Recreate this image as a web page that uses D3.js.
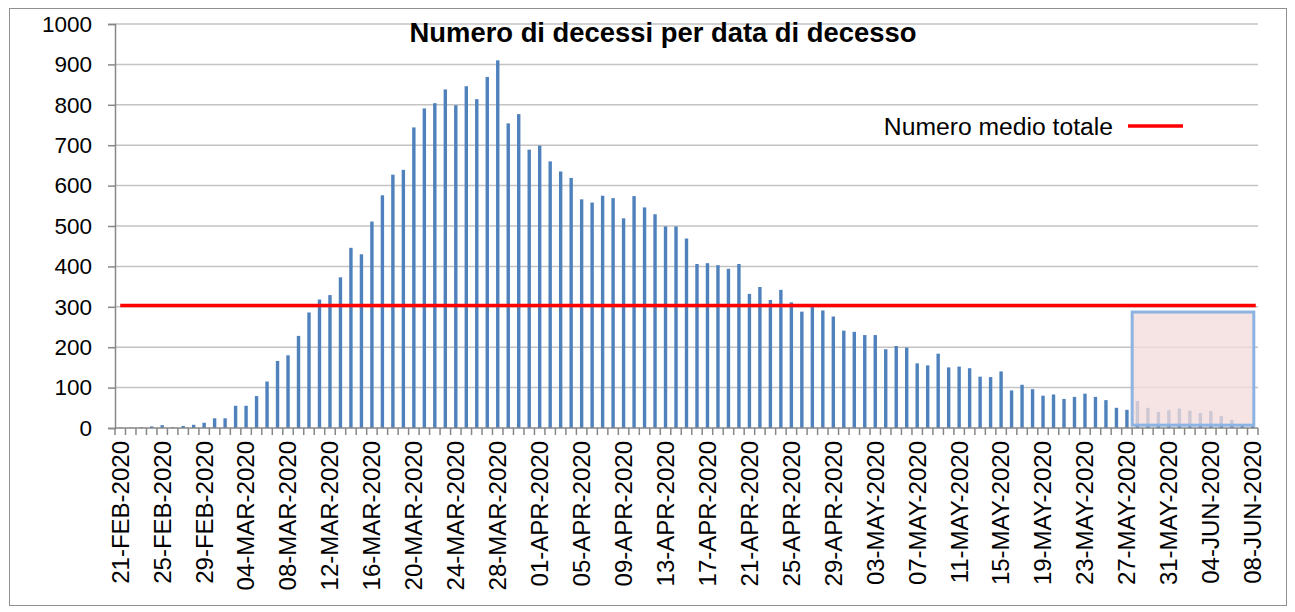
<!DOCTYPE html>
<html>
<head>
<meta charset="utf-8">
<script src="https://cdn.jsdelivr.net/npm/d3@7"></script>
<style>
  html, body { margin: 0; padding: 0; background: #ffffff; }
  svg { display: block; font-family: "Liberation Sans", Arial, sans-serif; }
</style>
</head>
<body>
<svg id="chart" width="1295" height="612"></svg>
<script>
// ---- Data ----
const startDate = "2020-02-21";
const endDate = "2020-06-08";
const deaths = [
  1, 1, 2, 4, 7, 2, 5, 8, 13, 24,
  24, 55, 55, 79, 115, 166, 180, 228, 286, 318,
  329, 373, 446, 430, 511, 576, 627, 639, 744, 791,
  804, 838, 799, 846, 814, 869, 910, 754, 777, 689,
  699, 660, 635, 619, 566, 558, 575, 569, 519, 574,
  546, 529, 499, 499, 469, 406, 408, 403, 394, 406,
  332, 349, 317, 342, 311, 288, 306, 291, 276, 241,
  238, 230, 230, 195, 203, 199, 160, 155, 184, 150,
  152, 148, 127, 126, 140, 93, 107, 96, 80, 83,
  72, 77, 85, 77, 69, 50, 45, 67, 50, 40,
  44, 48, 43, 37, 42, 30, 20, 9, 5
];
const meanValue = 303;
const yTicks = [0, 100, 200, 300, 400, 500, 600, 700, 800, 900, 1000];
const tickLabels = [
  "21-FEB-2020", "25-FEB-2020", "29-FEB-2020", "04-MAR-2020", "08-MAR-2020",
  "12-MAR-2020", "16-MAR-2020", "20-MAR-2020", "24-MAR-2020", "28-MAR-2020",
  "01-APR-2020", "05-APR-2020", "09-APR-2020", "13-APR-2020", "17-APR-2020",
  "21-APR-2020", "25-APR-2020", "29-APR-2020", "03-MAY-2020", "07-MAY-2020",
  "11-MAY-2020", "15-MAY-2020", "19-MAY-2020", "23-MAY-2020", "27-MAY-2020",
  "31-MAY-2020", "04-JUN-2020", "08-JUN-2020"
];
const titleText = "Numero di decessi per data di decesso";
const legendText = "Numero medio totale";
// highlighted region (category index units, value units)
const boxFrom = 97, boxTo = 108.6, boxTop = 287, boxBottom = 7;

(function () {
// ---- Categories ----
const parse = d3.utcParse("%Y-%m-%d");
const fmt = d3.utcFormat("%d-%b-%Y");
const categories = d3.utcDay.range(parse(startDate), d3.utcDay.offset(parse(endDate), 1))
  .map(d => fmt(d).toUpperCase());

// ---- Layout ----
const svg = d3.select("#chart");
const mLeft = 115, mRight = 1258, mTop = 24, mBottom = 428;

const x = d3.scaleBand().domain(categories).range([mLeft, mRight]).paddingInner(0).paddingOuter(0);
const xi = d3.scaleLinear().domain([0, categories.length]).range([mLeft, mRight]);
const y = d3.scaleLinear().domain([0, 1000]).range([mBottom, mTop]);
const barW = 3.4;

// outer border
svg.append("rect").attr("x", 9.5).attr("y", 8.5).attr("width", 1277).attr("height", 597)
  .attr("fill", "#fff").attr("stroke", "#8f8f8f").attr("stroke-width", 1);

// gridlines
svg.append("g").selectAll("line").data(yTicks.filter(v => v > 0)).join("line")
  .attr("x1", mLeft).attr("x2", mRight)
  .attr("y1", d => y(d)).attr("y2", d => y(d))
  .attr("stroke", "#c3c3c3").attr("stroke-width", 1.5);

// bars
svg.append("g").selectAll("rect").data(deaths).join("rect")
  .attr("x", (d, i) => x(categories[i]) + x.bandwidth() / 2 - barW / 2)
  .attr("width", barW)
  .attr("y", d => y(d))
  .attr("height", d => y(0) - y(d))
  .attr("fill", "#4f81bd");

// mean line
svg.append("line")
  .attr("x1", x(categories[0]) + x.bandwidth() / 2)
  .attr("x2", x(categories[categories.length - 1]) + x.bandwidth() / 2 + 3)
  .attr("y1", y(meanValue)).attr("y2", y(meanValue))
  .attr("stroke", "#ff0000").attr("stroke-width", 3.5);

// highlight box
svg.append("rect")
  .attr("x", xi(boxFrom)).attr("y", y(boxTop))
  .attr("width", xi(boxTo) - xi(boxFrom)).attr("height", y(boxBottom) - y(boxTop))
  .attr("fill", "#f2dcdb").attr("fill-opacity", 0.78)
  .attr("stroke", "#8db3e2").attr("stroke-width", 3);

// y axis
const yAxis = d3.axisLeft(y).tickValues(yTicks).tickSize(7).tickPadding(16).tickFormat(d3.format("d"));
const gy = svg.append("g").attr("transform", `translate(${mLeft},0)`).call(yAxis);
gy.select(".domain").attr("stroke", "#878787").attr("stroke-width", 1.5);
gy.selectAll(".tick line").attr("stroke", "#878787").attr("stroke-width", 1.5);
gy.selectAll(".tick text").attr("font-size", 22.5).attr("fill", "#000")
  .attr("font-family", "'Liberation Sans', Arial, sans-serif");

// x axis ticks (between categories)
const gx = svg.append("g");
gx.append("line").attr("x1", mLeft).attr("x2", mRight).attr("y1", mBottom).attr("y2", mBottom)
  .attr("stroke", "#878787").attr("stroke-width", 1.5);
gx.selectAll("line.tk").data(d3.range(categories.length + 1)).join("line").attr("class", "tk")
  .attr("x1", d => xi(d)).attr("x2", d => xi(d))
  .attr("y1", mBottom).attr("y2", mBottom + 7)
  .attr("stroke", "#878787").attr("stroke-width", 1.5);

// x labels
gx.selectAll("text").data(tickLabels).join("text")
  .attr("transform", d => `translate(${x(d) + x.bandwidth() / 2},${mBottom + 13}) rotate(-90)`)
  .attr("text-anchor", "end")
  .attr("dy", "0.35em")
  .attr("font-size", 24)
  .attr("fill", "#000")
  .text(d => d);

// title
svg.append("text").attr("x", 663).attr("y", 42).attr("text-anchor", "middle")
  .attr("font-size", 27.4).attr("font-weight", "bold").attr("fill", "#000")
  .text(titleText);

// legend
svg.append("text").attr("x", 1113).attr("y", 135).attr("text-anchor", "end")
  .attr("font-size", 24.7).attr("fill", "#000").text(legendText);
svg.append("line").attr("x1", 1128).attr("x2", 1183).attr("y1", 126).attr("y2", 126)
  .attr("stroke", "#ff0000").attr("stroke-width", 3.5);
})();
</script>
</body>
</html>
